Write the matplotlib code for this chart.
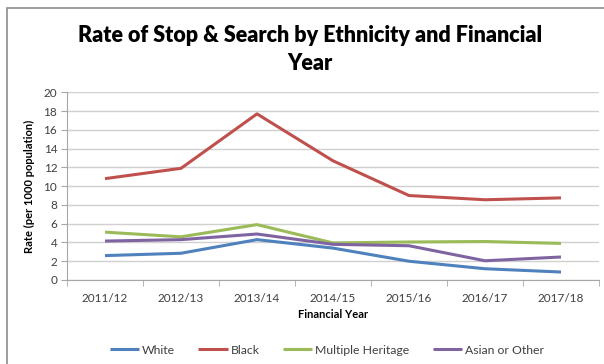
import numpy as np
import matplotlib
matplotlib.use("Agg")
import matplotlib.pyplot as plt
from matplotlib.patches import Rectangle

# ----------------------------------------------------------
# Data
# ----------------------------------------------------------
years = ["2011/12", "2012/13", "2013/14", "2014/15", "2015/16", "2016/17", "2017/18"]
white = [2.6, 2.85, 4.3, 3.4, 2.0, 1.2, 0.85]
black = [10.8, 11.9, 17.7, 12.7, 9.0, 8.55, 8.75]
multiple = [5.1, 4.6, 5.9, 3.95, 4.05, 4.1, 3.9]
asian = [4.15, 4.3, 4.9, 3.8, 3.65, 2.05, 2.45]

series = [
    ("White", white, "#4F81BD"),
    ("Black", black, "#C0504D"),
    ("Multiple Heritage", multiple, "#9BBB59"),
    ("Asian or Other", asian, "#8064A2"),
]

plt.rcParams["font.family"] = ["Lato", "DejaVu Sans"]

W, H = 604, 364
fig = plt.figure(figsize=(W / 100, H / 100), dpi=100)

# outer chart frame (cropped on right and bottom)
fig.patches.append(Rectangle((7 / W, -0.2), 1.2, 1.2 - 8 / H,
                             transform=fig.transFigure, fill=False,
                             edgecolor="#8C8C8C", linewidth=1.2))

ax = fig.add_axes([67 / W, 1 - 280 / H, (599 - 67) / W, (280 - 92.3) / H])

x = np.arange(len(years))
for name, vals, col in series:
    ax.plot(x, vals, color=col, linewidth=2.2, label=name, solid_capstyle="butt")

ax.set_xlim(-0.5, len(years) - 0.5)
ax.set_ylim(0, 20)
ax.set_yticks(range(0, 21, 2))
ax.set_xticks(x)
ax.set_xticklabels(years)
ax.set_xticks(np.arange(-0.5, len(years), 1), minor=True)
ax.tick_params(axis="x", which="major", length=0, pad=9, labelsize=8.5, labelcolor="#404040")
ax.tick_params(axis="x", which="minor", length=4, color="#A6A6A6", direction="out")
ax.tick_params(axis="y", length=4, color="#A6A6A6", labelsize=8.5, labelcolor="#404040", pad=3)

ax.grid(axis="y", color="#D0D0D0", linewidth=1)
ax.set_axisbelow(True)
for s in ["top", "right"]:
    ax.spines[s].set_visible(False)
for s in ["left", "bottom"]:
    ax.spines[s].set_color("#A6A6A6")

ax.set_xlabel("Financial Year", fontsize=8, fontweight="bold", labelpad=4)
ax.set_ylabel("Rate (per 1000 population)", fontsize=8, fontweight="bold", labelpad=6)

fig.text(310 / W, 1 - 35 / H, "Rate of Stop & Search by Ethnicity and Financial",
         ha="center", va="center", fontsize=15.5, fontweight="heavy")
fig.text(310 / W, 1 - 63 / H, "Year", ha="center", va="center",
         fontsize=15.5, fontweight="heavy")

leg = fig.legend(loc="center", bbox_to_anchor=(327 / W, 1 - 350 / H), ncol=4,
                 frameon=False, fontsize=8.8, handlelength=2.4, handletextpad=0.25,
                 columnspacing=1.9)
for t in leg.get_texts():
    t.set_color("#404040")

fig.savefig("out.png", dpi=100)
